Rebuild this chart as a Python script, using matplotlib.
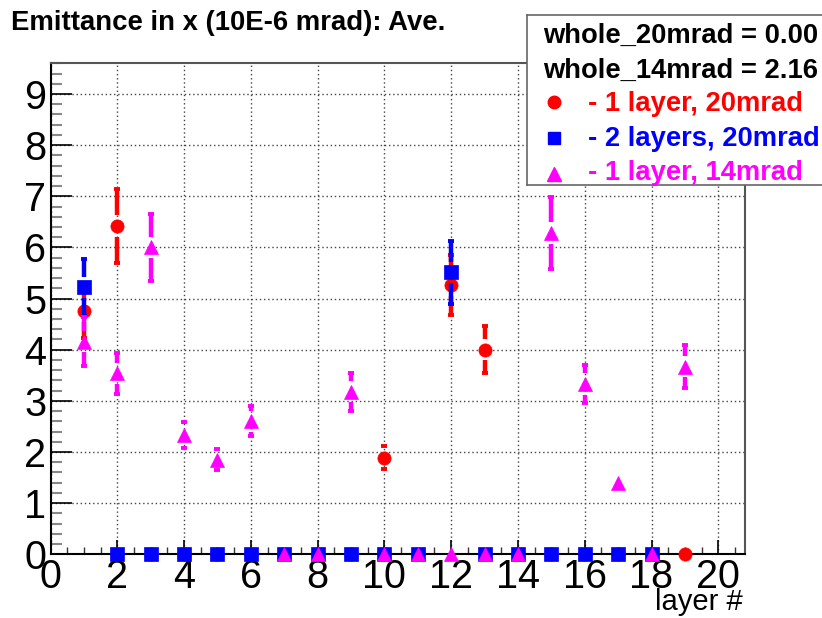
import numpy as np
import matplotlib
matplotlib.use("Agg")
import matplotlib.pyplot as plt
from matplotlib.ticker import MultipleLocator

plt.rcParams['font.family'] = ['Liberation Sans', 'DejaVu Sans']

# emittance per layer, three configurations
layers_20_1 = list(range(1, 20))
emit_20_1 = [4.75, 6.42, 0, 0, 0, 0, 0, 0, 0, 1.89, 0, 5.27, 4.00, 0, 0, 0, 0, 0, 0]
err_20_1 = [0.52, 0.72, 0, 0, 0, 0, 0, 0, 0, 0.22, 0, 0.59, 0.46, 0, 0, 0, 0, 0, 0]

layers_20_2 = list(range(1, 19))
emit_20_2 = [5.22, 0, 0, 0, 0, 0, 0, 0, 0, 0, 0, 5.51, 0, 0, 0, 0, 0, 0]
err_20_2 = [0.56, 0, 0, 0, 0, 0, 0, 0, 0, 0, 0, 0.62, 0, 0, 0, 0, 0, 0]

layers_14_1 = list(range(1, 20))
emit_14_1 = [4.16, 3.54, 6.00, 2.33, 1.85, 2.60, 0, 0, 3.18, 0, 0, 0, 0, 0, 6.28, 3.33, 1.39, 0, 3.67]
err_14_1 = [0.47, 0.40, 0.66, 0.25, 0.21, 0.29, 0, 0, 0.37, 0, 0, 0, 0, 0, 0.70, 0.37, 0, 0, 0.42]

whole_20mrad = 0.00
whole_14mrad = 2.16

series_labels = ["- 1 layer, 20mrad", "- 2 layers, 20mrad", "- 1 layer, 14mrad"]
series_colors = ["#ff0000", "#0000ff", "#ff00ff"]
series_markers = ["o", "s", "^"]
series_ms = [9.5, 9.5, 10.5]

GAP = 0.21  # error bars stop short of the marker


def draw_series(ax, x, y, err, color, marker, ms, z):
    x = np.asarray(x, float)
    y = np.asarray(y, float)
    err = np.asarray(err, float)
    has = err > 0
    long = err > GAP
    ax.vlines(x[long], (y + GAP)[long], (y + err)[long], color=color, lw=3.2, zorder=z, capstyle='butt')
    ax.vlines(x[long], (y - err)[long], (y - GAP)[long], color=color, lw=3.2, zorder=z, capstyle='butt')
    for yy in (y + err, y - err):
        ax.plot(x[has], yy[has], ls='none', marker='_', ms=4.8, mew=2.8, color=color, zorder=z)
    ax.plot(x, y, ls='none', marker=marker, ms=ms, color=color, mec=color, mew=0.5,
            zorder=z + 0.5, clip_on=False)


fig = plt.figure(figsize=(8.22, 6.18), dpi=100)
ax = fig.add_axes([50.5 / 822, 1 - 554.3 / 618, (745 - 50.5) / 822, (554.3 - 63.3) / 618])
ax.set_xlim(0, 20.8)
ax.set_ylim(0, 9.6)

ax.xaxis.set_major_locator(MultipleLocator(2))
ax.xaxis.set_minor_locator(MultipleLocator(0.5))
ax.yaxis.set_major_locator(MultipleLocator(1))
ax.yaxis.set_minor_locator(MultipleLocator(0.2))
ax.tick_params(axis='x', which='major', direction='in', length=10, width=1.2, labelsize=28.5, pad=2.5)
ax.tick_params(axis='x', which='minor', direction='in', length=5, width=1.0, color='#333333')
ax.tick_params(axis='y', which='major', direction='in', length=15, width=1.2, labelsize=28.5, pad=3)
ax.tick_params(axis='y', which='minor', direction='in', length=8, width=1.5, color='#888888')
ax.grid(True, which='major', ls=(0, (1, 2)), color='#444444', lw=1.0)
ax.set_axisbelow(True)
for side in ('left', 'bottom'):
    ax.spines[side].set_linewidth(1.5)
    ax.spines[side].set_color('black')
for side in ('top', 'right'):
    ax.spines[side].set_linewidth(1.5)
    ax.spines[side].set_color('#555555')

all_series = [(layers_20_1, emit_20_1, err_20_1),
              (layers_20_2, emit_20_2, err_20_2),
              (layers_14_1, emit_14_1, err_14_1)]
for i, (x, y, e) in enumerate(all_series):
    draw_series(ax, x, y, e, series_colors[i], series_markers[i], series_ms[i], 3 + i)

fig.text(11 / 822, 1 - 30 / 618, "Emittance in x (10E-6 mrad): Ave.", fontsize=19.8,
         fontweight='bold', va='baseline', ha='left')
fig.text(743 / 822, 1 - 610 / 618, "layer #", fontsize=21, va='baseline', ha='right')

# legend box
lg = fig.add_axes([527 / 822, 1 - 185 / 618, (840 - 527) / 822, 170 / 618])
lg.set_xlim(527, 840)
lg.set_ylim(185, 15)
lg.set_xticks([])
lg.set_yticks([])
for s in lg.spines.values():
    s.set_color('#666666')
    s.set_linewidth(1.2)
lg.text(543, 43.3, "whole_20mrad = %.2f" % whole_20mrad, fontsize=19.7, fontweight='bold', va='baseline')
lg.text(543, 77.8, "whole_14mrad = %.2f" % whole_14mrad, fontsize=19.7, fontweight='bold', va='baseline')
row_base = [111.5, 146, 180.5]
row_mark = [101.7, 137.7, 174.5]
for i in range(3):
    lg.plot([554], [row_mark[i]], ls='none', marker=series_markers[i], ms=series_ms[i] - 0.5,
            color=series_colors[i], mec=series_colors[i])
    lg.text(588, row_base[i], series_labels[i], fontsize=19.7, fontweight='bold',
            color=series_colors[i], va='baseline')

fig.savefig("out.png", dpi=100)
